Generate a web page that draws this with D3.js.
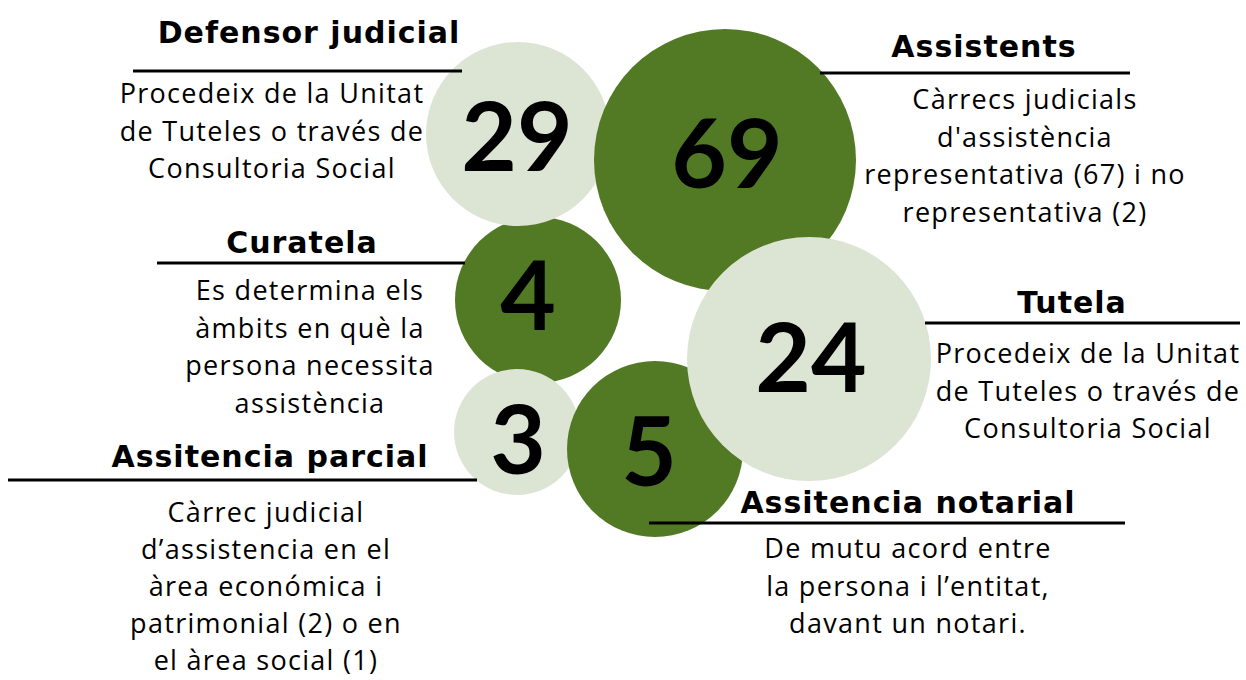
<!DOCTYPE html>
<html>
<head>
<meta charset="utf-8">
<script src="https://cdn.jsdelivr.net/npm/d3@7"></script>
<style>
	body { margin: 0; background: #fff; }
	svg { display: block; }
</style>
</head>
<body>
<div id="chart"></div>
<script>
// values shown inside the bubbles
const values = [29, 69, 4, 24, 3, 5];
const titles = ['Defensor judicial', 'Assistents', 'Curatela', 'Tutela', 'Assitencia parcial', 'Assitencia notarial'];
const descriptions = [
	['Procedeix de la Unitat', 'de Tuteles o través de', 'Consultoria Social'],
	['Càrrecs judicials', "d'assistència", 'representativa (67) i no', 'representativa (2)'],
	['Es determina els', 'àmbits en què la', 'persona necessita', 'assistència'],
	['Procedeix de la Unitat', 'de Tuteles o través de', 'Consultoria Social'],
	['Càrrec judicial', 'd’assistencia en el', 'àrea económica i', 'patrimonial (2) o en', 'el àrea social (1)'],
	['De mutu acord entre', 'la persona i l’entitat,', 'davant un notari.']
];
const shades = ['light', 'dark', 'dark', 'light', 'light', 'dark'];

// layout of the infographic (bubble placement and label blocks)
const layout = [
	{ cx: 518, cy: 134, r: 92, nx: 517, ny: 171, tx: 309, ty: 43, lx1: 133, lx2: 462, ly: 71, bx: 272, by: 103, gap: 37.5 },
	{ cx: 725, cy: 160, r: 131, nx: 727, ny: 188, tx: 984, ty: 57, lx1: 820, lx2: 1130, ly: 73, bx: 1025, by: 109, gap: 37.5 },
	{ cx: 538, cy: 300, r: 83, nx: 528, ny: 330, tx: 302, ty: 253, lx1: 157, lx2: 465, ly: 263, bx: 310, by: 300, gap: 37.5 },
	{ cx: 809, cy: 359, r: 122, nx: 811, ny: 392, tx: 1072, ty: 313, lx1: 925, lx2: 1240, ly: 323, bx: 1088, by: 363, gap: 37.5 },
	{ cx: 517, cy: 432, r: 63, nx: 518, ny: 474, tx: 270, ty: 467, lx1: 8, lx2: 477, ly: 480, bx: 266, by: 522, gap: 37 },
	{ cx: 655, cy: 449, r: 88, nx: 649, ny: 486, tx: 908, ty: 513, lx1: 649, lx2: 1125, ly: 523, bx: 908, by: 558, gap: 37.5 }
];
const drawOrder = [2, 0, 1, 4, 5, 3];

const width = 1246;
const height = 680;

const color = d3.scaleOrdinal().domain(['light', 'dark']).range(['#dce5d4', '#527a25']);

const items = values.map((v, i) => ({
	value: v,
	title: titles[i],
	lines: descriptions[i],
	shade: shades[i],
	...layout[i]
}));

const svg = d3.select('#chart')
	.append('svg')
	.attr('width', width)
	.attr('height', height);

// bubbles
const bubble = svg.selectAll('g.bubble')
	.data(drawOrder.map((i) => items[i]))
	.enter()
	.append('g')
	.attr('class', 'bubble');

bubble.append('circle')
	.attr('cx', (d) => d.cx)
	.attr('cy', (d) => d.cy)
	.attr('r', (d) => d.r)
	.attr('fill', (d) => color(d.shade));

bubble.append('text')
	.attr('x', (d) => d.nx)
	.attr('y', (d) => d.ny)
	.attr('text-anchor', 'middle')
	.style('font-family', 'Lato, sans-serif')
	.style('font-weight', 700)
	.style('font-size', '96px')
	.style('fill', '#000')
	.text((d) => d.value);

// label blocks: title, rule, description
const label = svg.selectAll('g.label')
	.data(items)
	.enter()
	.append('g')
	.attr('class', 'label');

label.append('line')
	.attr('x1', (d) => d.lx1)
	.attr('x2', (d) => d.lx2)
	.attr('y1', (d) => d.ly)
	.attr('y2', (d) => d.ly)
	.attr('stroke', '#000')
	.attr('stroke-width', 3);

label.append('text')
	.attr('x', (d) => d.tx)
	.attr('y', (d) => d.ty)
	.attr('text-anchor', 'middle')
	.style('font-family', '"DejaVu Sans", sans-serif')
	.style('font-weight', 700)
	.style('font-size', '30px')
	.style('letter-spacing', '1px')
	.style('fill', '#000')
	.text((d) => d.title);

label.append('text')
	.attr('text-anchor', 'middle')
	.style('font-family', '"Open Sans", sans-serif')
	.style('font-size', '27px')
	.style('letter-spacing', '1.3px')
	.style('fill', '#000')
	.selectAll('tspan')
	.data((d) => d.lines.map((t, k) => ({ t, k, d })))
	.enter()
	.append('tspan')
	.attr('x', (e) => e.d.bx)
	.attr('y', (e) => e.d.by + e.k * e.d.gap)
	.text((e) => e.t);
</script>
</body>
</html>
